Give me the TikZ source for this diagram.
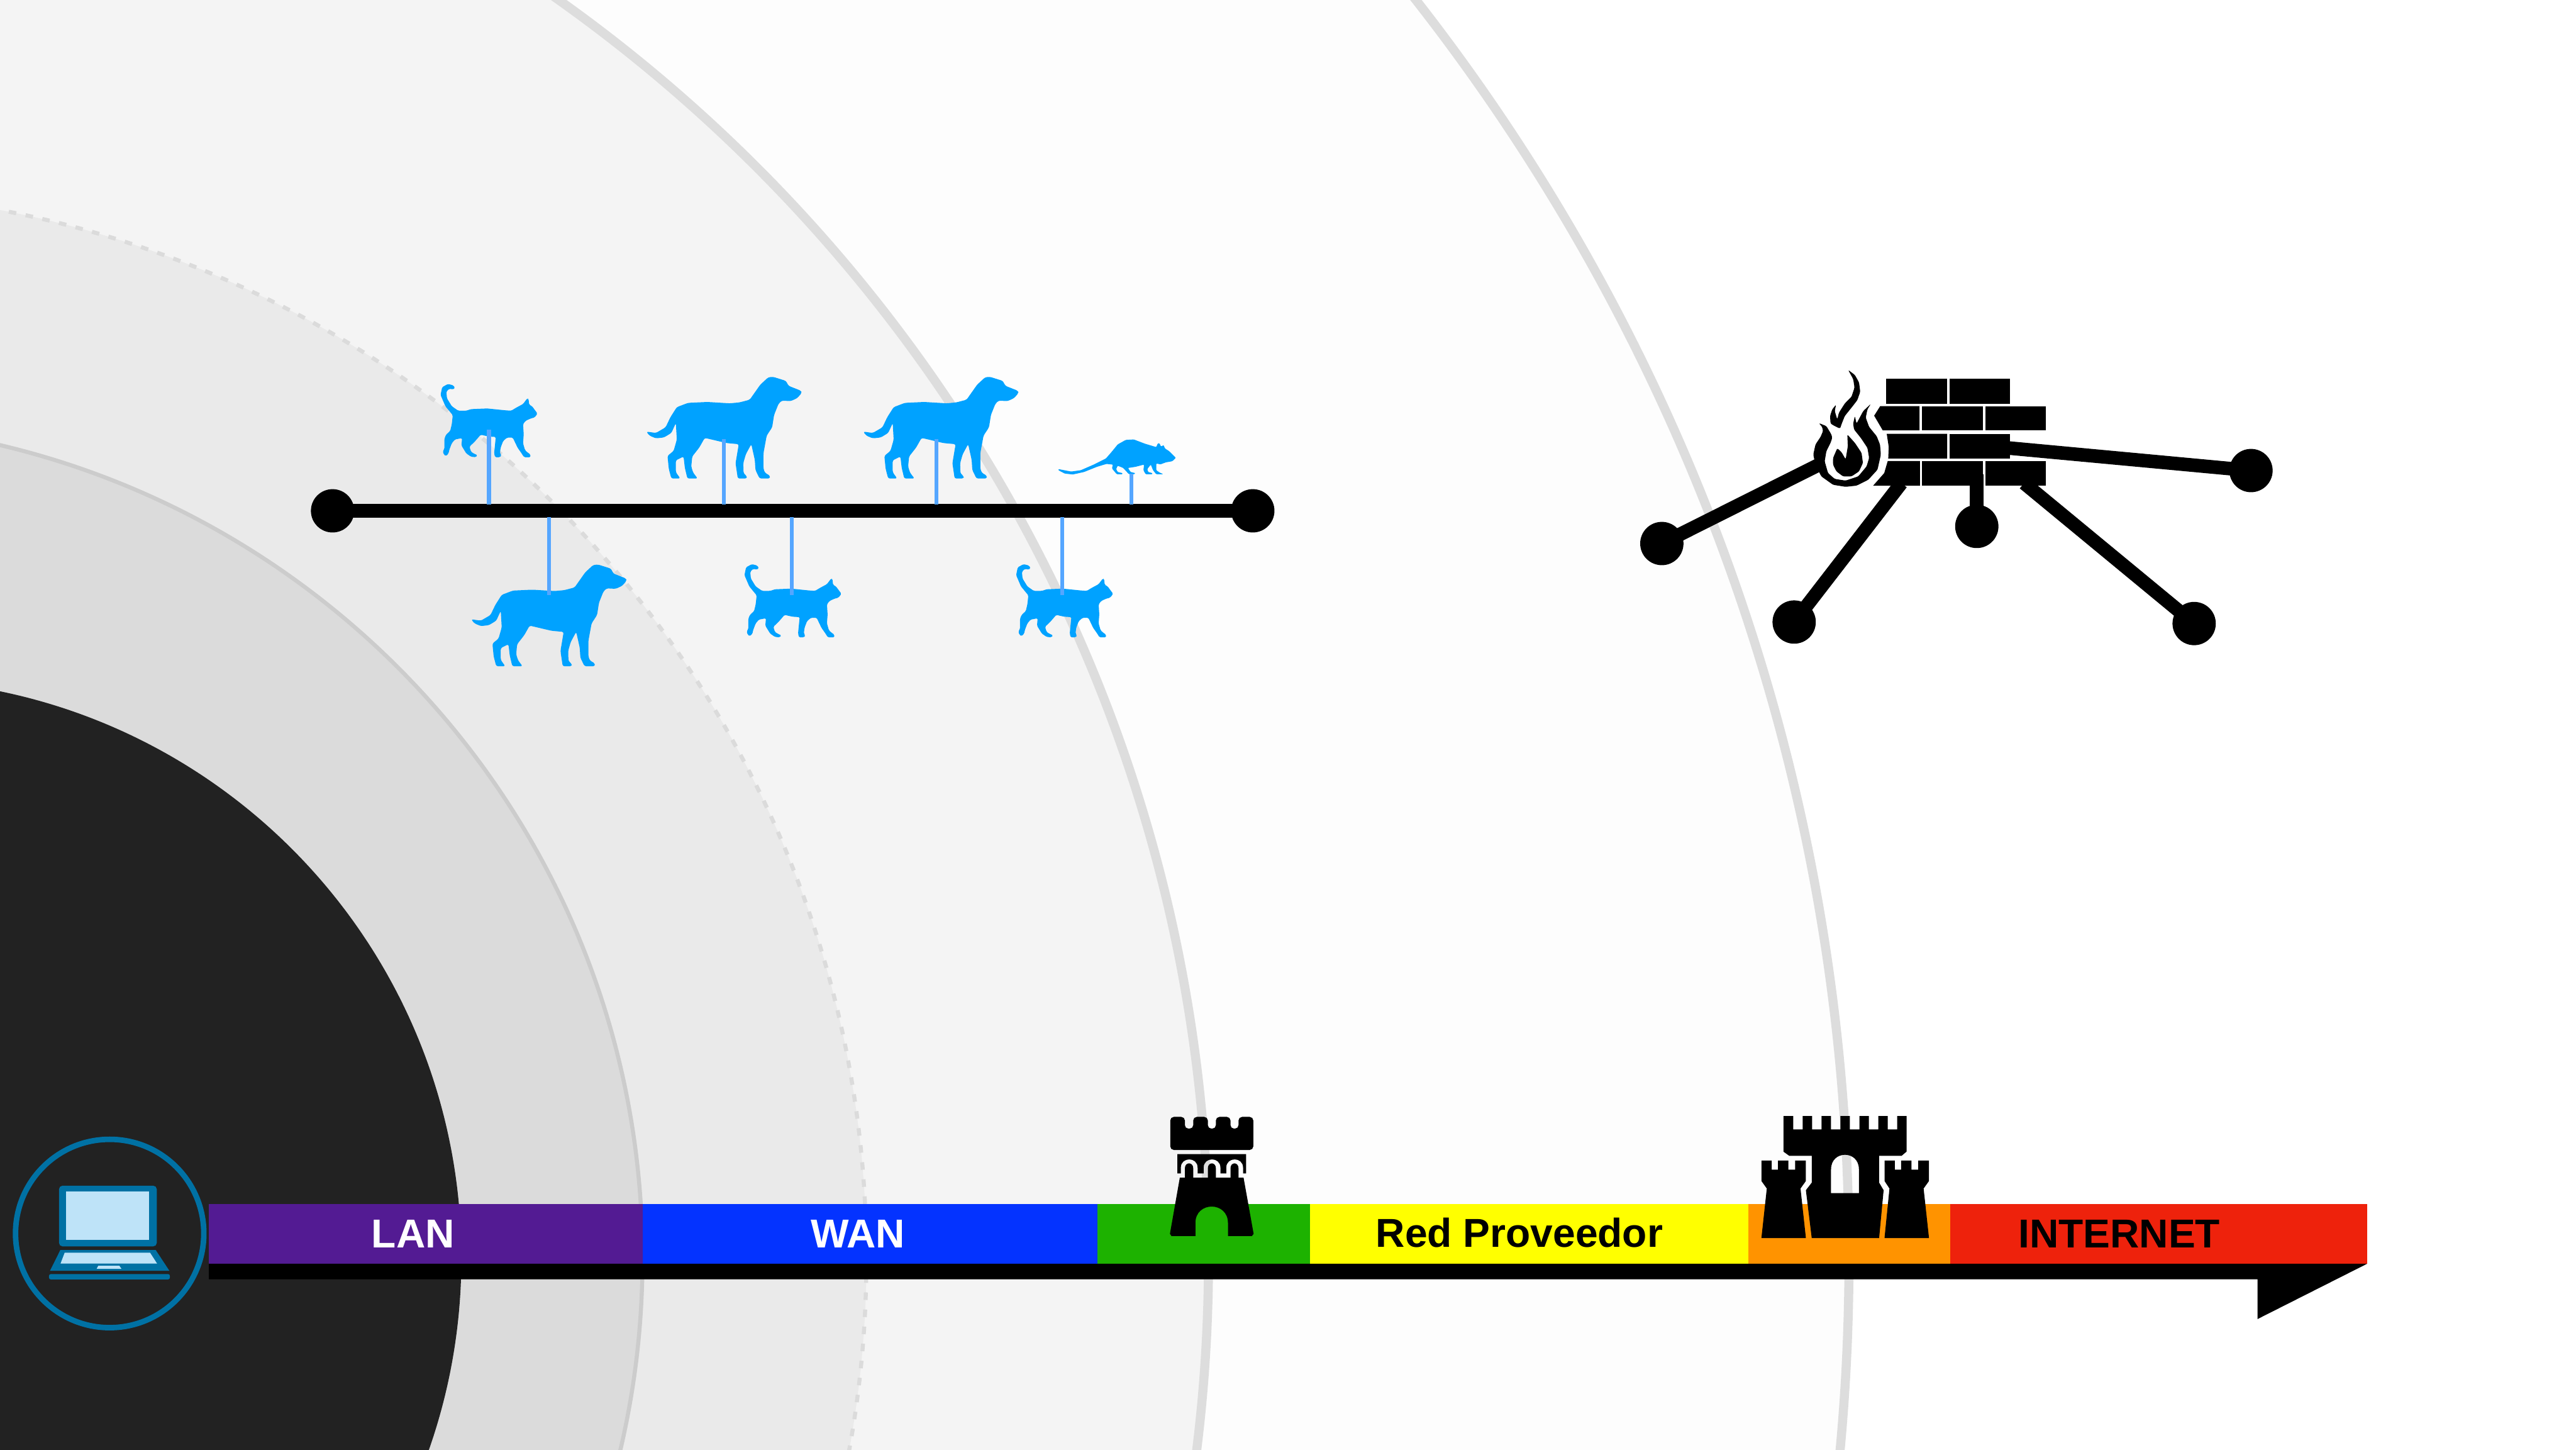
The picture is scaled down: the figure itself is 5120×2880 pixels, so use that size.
\documentclass[tikz,border=0pt]{standalone}
\usepackage{fontspec}
\setmainfont{Liberation Sans}
\usepackage{tikz}

\definecolor{disccolor}{HTML}{222222}
\definecolor{ringb}{HTML}{DBDBDB}
\definecolor{ringbedge}{HTML}{CCCCCC}
\definecolor{ringc}{HTML}{EAEAEA}
\definecolor{ringd}{HTML}{F4F4F4}
\definecolor{ringe}{HTML}{FDFDFD}
\definecolor{edgecolor}{HTML}{DDDDDD}
\definecolor{petblue}{HTML}{00A2FF}
\definecolor{leaderblue}{HTML}{55A6FF}
\definecolor{lancolor}{HTML}{531B93}
\definecolor{wancolor}{HTML}{0433FF}
\definecolor{dmzcolor}{HTML}{1DB200}
\definecolor{ispcolor}{HTML}{FFFF00}
\definecolor{edgeorange}{HTML}{FF9300}
\definecolor{netcolor}{HTML}{EE220C}
\definecolor{pcdark}{HTML}{0071A4}
\definecolor{pclight}{HTML}{BEE3F8}

\tikzset{
    x=0.01cm, y=-0.01cm,
    wiredot/.style={circle, fill=black, inner sep=0pt, minimum size=0.86cm},
    wire/.style={line width=0.27cm},
    leader/.style={leaderblue, line width=0.08cm},
    barlabel/.style={font=\fontsize{22.8}{28}\selectfont\bfseries, inner sep=0pt},
    pics/dog/.style={code={
        \fill [petblue, rounded corners=1pt, xscale=0.638, yscale=0.446, shift={(-832,-1125)}]
            (590,1234) -- (620,1240) -- (650,1215) -- (665,1170) -- (685,1125) -- (720,1106)
            -- (780,1102) -- (850,1108) -- (880,1104) -- (912,1092) -- (945,1025) -- (970,992)
            -- (985,990) -- (1025,1008) -- (1033,1030) -- (1072,1052) -- (1074,1062) -- (1060,1085)
            -- (1040,1098) -- (1012,1096) -- (1002,1110) -- (988,1160) -- (982,1215) -- (965,1252)
            -- (955,1330) -- (955,1400) -- (960,1418) -- (975,1430) -- (975,1443) -- (943,1443)
            -- (930,1405) -- (928,1360) -- (917,1290) -- (900,1335) -- (892,1375) -- (893,1420)
            -- (903,1432) -- (903,1443) -- (875,1443) -- (868,1375) -- (878,1290) -- (840,1285)
            -- (772,1262) -- (755,1305) -- (733,1345) -- (730,1390) -- (736,1417) -- (750,1443)
            -- (718,1443) -- (710,1395) -- (706,1345) -- (682,1362) -- (682,1415) -- (696,1443)
            -- (668,1443) -- (660,1400) -- (656,1342) -- (675,1320) -- (685,1270) -- (682,1196)
            -- (668,1240) -- (645,1260) -- (620,1264) -- (600,1252) -- cycle;
    }},
    pics/cat/.style={code={
        \fill [petblue, rounded corners=0.6pt, xscale=0.638, yscale=0.446, shift={(-646,-390)}]
            (533,325) -- (510,285) -- (495,235) -- (500,200) -- (518,186) -- (535,192) -- (540,205)
            -- (534,210) -- (522,207) -- (513,220) -- (515,250) -- (530,285) -- (550,305) -- (575,305)
            -- (590,298) -- (640,295) -- (695,303) -- (715,305) -- (730,292) -- (752,275) -- (765,250)
            -- (769,252) -- (771,278) -- (780,285) -- (797,318) -- (788,335) -- (775,340) -- (760,350)
            -- (752,365) -- (754,410) -- (752,450) -- (758,480) -- (765,490) -- (775,500) -- (775,512)
            -- (755,512) -- (745,490) -- (735,470) -- (725,440) -- (720,425) -- (702,425) -- (690,440)
            -- (682,470) -- (680,495) -- (685,505) -- (680,512) -- (665,512) -- (662,495) -- (664,465)
            -- (667,422) -- (645,420) -- (620,412) -- (600,445) -- (585,465) -- (590,488) -- (600,497)
            -- (610,503) -- (605,512) -- (590,510) -- (575,495) -- (560,460) -- (562,427) -- (540,433)
            -- (530,450) -- (522,480) -- (520,495) -- (512,507) -- (505,500) -- (502,485) -- (507,475)
            -- (507,430) -- (512,412) -- (525,395) -- (530,365) -- cycle;
    }},
    pics/rat/.style={code={
        \fill [petblue, rounded corners=0.4pt, xscale=0.638, yscale=0.446, shift={(-1018,-585)}]
            (790,565) -- (830,576) -- (860,570) -- (900,545) -- (938,518) -- (955,490) -- (975,455)
            -- (1000,435) -- (1025,433) -- (1060,452) -- (1095,467) -- (1100,450) -- (1105,450)
            -- (1110,465) -- (1118,458) -- (1122,473) -- (1135,485) -- (1156,515) -- (1145,530)
            -- (1125,535) -- (1108,544) -- (1095,540) -- (1095,570) -- (1105,580) -- (1117,588)
            -- (1095,588) -- (1085,570) -- (1078,545) -- (1067,565) -- (1070,578) -- (1083,583)
            -- (1083,588) -- (1062,588) -- (1055,570) -- (1057,545) -- (1030,555) -- (1007,560)
            -- (1015,578) -- (1030,583) -- (1027,588) -- (1010,588) -- (992,560) -- (975,550)
            -- (970,565) -- (975,578) -- (990,583) -- (990,588) -- (972,588) -- (957,562) -- (960,545)
            -- (940,542) -- (910,555) -- (870,578) -- (835,589) -- (810,585) -- (790,570) -- cycle;
    }}
}

\begin{document}
\begin{tikzpicture}
    \useasboundingbox (0,0) rectangle (5120,2880);
    \clip (0,0) rectangle (5120,2880);
    \fill [white] (0,0) rectangle (5120,2880);

    \draw [edgecolor, fill=ringe, line width=0.18cm] (-385,2500) circle [radius=4060];
    \draw [edgecolor, fill=ringd, line width=0.18cm] (-663,2500) circle [radius=3065];
    \draw [ringb, fill=ringc, line width=0.08cm, dash pattern=on 0.15cm off 0.19cm] (-398,2500) circle [radius=2120];
    \draw [ringbedge, fill=ringb, line width=0.08cm] (-383,2500) circle [radius=1660];
    \fill [disccolor] (-233,2500) circle [radius=1150];

    \pic at (1439,809) {dog};
    \pic at (1870,809) {dog};
    \pic at (1091,1182) {dog};
    \pic at (972,854) {cat};
    \pic at (1576,1212) {cat};
    \pic at (2116,1212) {cat};
    \pic at (2249,941) {rat};

    \node [wiredot] (hubleft) at (661,1015){};
    \node [wiredot] (hubright) at (2490,1015){};
    \draw [wire] (hubleft.center) -- (hubright.center);

    \coordinate (catone) at (972,854);
    \coordinate (catonewire) at (972,1002);
    \coordinate (dogone) at (1439,873);
    \coordinate (dogonewire) at (1439,1002);
    \coordinate (dogtwo) at (1861,873);
    \coordinate (dogtwowire) at (1861,1002);
    \coordinate (ratone) at (2249,941);
    \coordinate (ratonewire) at (2249,1002);
    \coordinate (dogthree) at (1091,1182);
    \coordinate (dogthreewire) at (1091,1028);
    \coordinate (cattwo) at (1574,1182);
    \coordinate (cattwowire) at (1574,1028);
    \coordinate (catthree) at (2111,1182);
    \coordinate (catthreewire) at (2111,1028);
    \draw [leader] (catone) -- (catonewire);
    \draw [leader] (dogone) -- (dogonewire);
    \draw [leader] (dogtwo) -- (dogtwowire);
    \draw [leader] (ratone) -- (ratonewire);
    \draw [leader] (dogthree) -- (dogthreewire);
    \draw [leader] (cattwo) -- (cattwowire);
    \draw [leader] (catthree) -- (catthreewire);

    \node [wiredot] (fwleft) at (3303,1080){};
    \node [wiredot] (fwlow) at (3566,1236){};
    \node [wiredot] (fwmid) at (3929,1046){};
    \node [wiredot] (fwside) at (4474,935){};
    \node [wiredot] (fwlowright) at (4361,1239){};
    \coordinate (flameside) at (3612,925);
    \coordinate (brickslow) at (3779,960);
    \coordinate (bricksmid) at (3929,943);
    \coordinate (brickslowright) at (4023,960);
    \coordinate (bricksside) at (3990,890);
    \draw [wire] (fwleft.center) -- (flameside);
    \draw [wire] (fwlow.center) -- (brickslow);
    \draw [wire] (fwlowright.center) -- (brickslowright);
    \draw [wire] (fwside.center) -- (bricksside);

    \fill (3749,752) rectangle (3870,803);
    \fill (3875,752) rectangle (3995,803);
    \fill (3737,807) -- (3815,807) -- (3815,855) -- (3742,855) -- (3725,826) -- cycle;
    \fill (3820,807) rectangle (3941,855);
    \fill (3946,807) rectangle (4066,855);
    \fill (3750,862) -- (3870,862) -- (3870,911) -- (3753,911) -- (3754,888) -- cycle;
    \fill (3875,862) rectangle (3995,911);
    \fill (3752,916) -- (3816,916) -- (3816,965) -- (3723,965) -- (3745,940) -- cycle;
    \fill (3820,916) rectangle (3941,965);
    \fill (3946,916) rectangle (4066,965);
    \draw [wire] (fwmid.center) -- (bricksmid);

    \begin{scope}[shift={(3580,720)}, scale=0.3333, rounded corners=0.8pt]
        \fill (105,362) -- (150,380) -- (180,430) -- (185,450) -- (175,480) -- (150,530) -- (140,590)
            -- (160,660) -- (200,695) -- (265,705) -- (340,680) -- (390,620) -- (405,570) -- (395,510)
            -- (355,450) -- (315,400) -- (310,365) -- (320,320) -- (330,365) -- (370,290) -- (415,248)
            -- (395,280) -- (385,330) -- (405,385) -- (450,440) -- (470,490) -- (475,550) -- (455,640)
            -- (400,700) -- (330,735) -- (265,742) -- (190,730) -- (120,680) -- (85,610) -- (72,550)
            -- (85,490) -- (115,445) -- (130,410) -- (125,385) -- cycle;
        \fill (275,430) -- (320,480) -- (360,540) -- (368,600) -- (345,650) -- (300,680) -- (250,680)
            -- (210,650) -- (190,610) -- (190,570) -- (215,512) -- (240,535) -- (265,578) -- (278,500) -- cycle;
        \fill (280,45) -- (320,75) -- (345,120) -- (352,175) -- (335,225) -- (300,270) -- (260,320)
            -- (240,370) -- (232,395) -- (200,380) -- (175,365) -- (172,320) -- (185,280) -- (208,252)
            -- (200,290) -- (215,340) -- (225,300) -- (260,245) -- (300,205) -- (318,150) -- (310,100) -- cycle;
    \end{scope}

    \fill [lancolor] (415,2392) rectangle (1277,2511);
    \fill [wancolor] (1277,2392) rectangle (2181,2511);
    \fill [dmzcolor] (2181,2392) rectangle (2604,2511);
    \fill [ispcolor] (2604,2392) rectangle (3475,2511);
    \fill [netcolor] (3475,2392) rectangle (4705,2511);
    \fill [edgeorange] (3475,2393) rectangle (3876,2511);
    \fill (415,2511) -- (4705,2511) -- (4487,2621) -- (4487,2542) -- (415,2542) -- cycle;

    \node [barlabel, white] (lan) at (821,2452){LAN};
    \node [barlabel, white] (wan) at (1705,2452){WAN};
    \node [barlabel] (isp) at (3020,2450){Red Proveedor};
    \node [barlabel] (internet) at (4212,2452){INTERNET};

    \begin{scope}[shift={(2200,2150)}, scale=0.3333]
        \fill [rounded corners=2pt] (378,405) -- (378,208) -- (465,208) -- (465,278) -- (515,278) -- (515,208)
            -- (602,208) -- (602,278) -- (650,278) -- (650,208) -- (737,208) -- (737,278) -- (785,278)
            -- (785,208) -- (873,208) -- (873,405) -- cycle;
        \fill (420,430) -- (830,430) -- (830,545) -- (812,545) -- (812,510) .. controls (812,445) and (712,445) .. (712,510)
            -- (712,545) -- (677,545) -- (677,510) .. controls (677,445) and (577,445) .. (577,510)
            -- (577,545) -- (541,545) -- (541,510) .. controls (541,445) and (441,445) .. (441,510)
            -- (441,545) -- (420,545) -- cycle;
        \fill (435,570) -- (465,570) -- (465,515) .. controls (465,475) and (515,475) .. (515,515) -- (515,570)
            -- (602,570) -- (602,515) .. controls (602,475) and (650,475) .. (650,515) -- (650,570)
            -- (737,570) -- (737,515) .. controls (737,475) and (785,475) .. (785,515) -- (785,570)
            -- (815,570) -- (875,905) -- (865,918) -- (722,918) -- (722,840) .. controls (722,710) and (528,710) .. (528,840)
            -- (528,918) -- (385,918) -- (376,905) -- cycle;
    \end{scope}

    \begin{scope}[shift={(3400,2150)}, xscale=0.893, yscale=0.3333]
        \fill [even odd rule] (162,203) -- (184,203) -- (184,283) -- (205,283) -- (205,203) -- (226,203) -- (226,283)
            -- (247,283) -- (247,203) -- (268,203) -- (268,283) -- (289,283) -- (289,203) -- (310,203) -- (310,283)
            -- (331,283) -- (331,203) -- (352,203) -- (352,283) -- (373,283) -- (373,203) -- (394,203) -- (394,283)
            -- (415,283) -- (415,203) -- (436,203) -- (436,415) -- (425,440) -- (375,440) -- (375,600) -- (385,645)
            -- (375,930) -- (225,930) -- (212,645) -- (225,600) -- (225,440) -- (175,440) -- (162,415) -- cycle
            (268,662) -- (268,520) .. controls (268,405) and (330,405) .. (330,520) -- (330,662) -- cycle;
        \fill (113,468) -- (136,468) -- (136,523) -- (150,523) -- (150,468) -- (173,468) -- (173,523) -- (188,523)
            -- (188,468) -- (212,468) -- (212,590) -- (200,635) -- (212,930) -- (113,930) -- (125,635) -- (113,590) -- cycle;
        \fill (387,468) -- (410,468) -- (410,523) -- (424,523) -- (424,468) -- (447,468) -- (447,523) -- (462,523)
            -- (462,468) -- (486,468) -- (486,590) -- (474,635) -- (486,930) -- (387,930) -- (398,635) -- (387,590) -- cycle;
    \end{scope}

    \node [circle, draw=pcdark, line width=0.11cm, minimum size=3.74cm, inner sep=0pt] (laptop) at (218,2451){};
    \begin{scope}[shift={(0,2200)}, xscale=0.51, yscale=0.3333]
        \fill [pcdark, rounded corners=2pt] (230,468) rectangle (611,830);
        \fill [pclight] (258,503) rectangle (582,793);
        \fill [pcdark] (235,852) -- (607,852) -- (660,975) -- (195,975) -- cycle;
        \fill [pclight] (252,868) -- (585,868) -- (612,932) -- (236,932) -- cycle;
        \fill [pclight] (383,945) -- (465,945) -- (473,963) -- (377,963) -- cycle;
        \fill [pcdark, rounded corners=1pt] (191,995) rectangle (662,1027);
    \end{scope}
\end{tikzpicture}
\end{document}
